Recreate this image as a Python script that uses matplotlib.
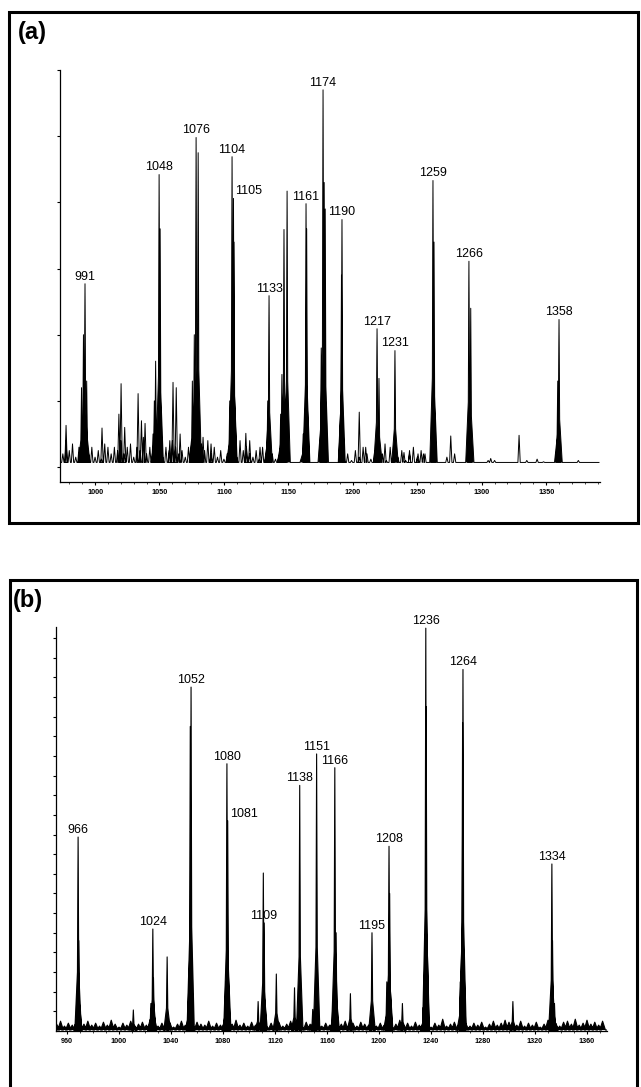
import numpy as np
import matplotlib.pyplot as plt
from matplotlib.patches import Rectangle
from matplotlib.ticker import MultipleLocator

plt.rcParams['font.family'] = ['Liberation Sans', 'DejaVu Sans']

# ---- panel (a): main peaks (m/z, height in tick units, label) ----
peaks_a_x = [989.5, 991.0, 992.2, 993.5, 1046.0, 1047.0, 1049.7, 1050.5, 1075.5, 1077.0,
             1078.4, 1080.0, 1104.5, 1106.3, 1107.4, 1107.8, 1134.0, 1135.0, 1144.0, 1145.0,
             1146.6, 1149.0, 1161.5, 1163.7, 1164.2, 1175.5, 1176.9, 1177.8, 1178.6, 1191.2,
             1191.6, 1218.8, 1220.3, 1232.7, 1262.2, 1263.0, 1290.1, 1291.5, 1359.0, 1360.0]
peaks_a_h = [1.2, 2.0, 2.77, 1.3, 1.0, 1.6, 4.42, 3.6, 1.3, 2.0,
             4.98, 4.75, 1.0, 4.69, 4.06, 3.4, 1.0, 2.59, 0.8, 1.4,
             3.59, 4.17, 0.5, 3.98, 3.6, 1.8, 5.70, 4.3, 3.9, 2.9,
             3.74, 2.09, 1.34, 1.76, 4.33, 3.4, 3.11, 2.4, 1.3, 2.23]
peaks_a_lab = ['', '', '991', '', '', '', '1048', '', '', '',
               '1076', '', '', '1104', '1105', '', '', '1133', '', '',
               '', '', '', '1161', '', '', '1174', '', '', '',
               '1190', '1217', '', '1231', '1259', '', '1266', '', '', '1358']

# small peaks of panel (a)
small_a_x = [977.5, 1005.4, 1018.5, 1020.2, 1023.0, 1033.4, 1036.0, 1038.8, 1058.0, 1060.5,
             1063.0, 1066.0, 1083.8, 1090.0, 1117.0, 1120.0, 1128.0, 1205.0, 1210.0, 1225.0,
             1239.7, 1244.0, 1250.6, 1254.8, 1273.0, 1276.0, 1279.0, 1305.0, 1307.0, 1310.0,
             1329.0, 1335.0, 1343.0, 1348.0, 1375.0]
small_a_h = [0.63, 0.59, 0.8, 1.26, 0.6, 1.11, 0.7, 0.66, 0.4, 1.28,
             1.2, 0.5, 0.45, 0.35, 0.51, 0.4, 0.3, 0.83, 0.3, 0.35,
             0.22, 0.25, 0.2, 0.2, 0.15, 0.47, 0.2, 0.1, 0.13, 0.1,
             0.48, 0.1, 0.12, 0.08, 0.1]

# baseline noise of panel (a)
noise_a1_x = np.arange(975, 1146, 2.5)
noise_a1_h = [0.2, 0.4, 0.25, 0.35, 0.15, 0.3, 0.4, 0.25, 0.2, 0.3, 0.15,
              0.25, 0.12, 0.35, 0.3, 0.2, 0.3,
              0.25, 0.4, 0.2, 0.3, 0.35, 0.15,
              0.3, 0.25, 0.45, 0.2, 0.3, 0.5,
              0.25, 0.35, 0.15, 0.3, 0.25, 0.4,
              0.3, 0.2, 0.25, 0.15, 0.3, 0.4,
              0.25, 0.15, 0.35, 0.25, 0.4, 0.2,
              0.3, 0.15, 0.25, 0.12, 0.2, 0.35,
              0.25, 0.15, 0.4, 0.25, 0.3, 0.2,
              0.15, 0.25, 0.12, 0.3, 0.15, 0.25,
              0.2, 0.12, 0.15, 0.25]
noise_a2_x = np.arange(1193, 1259, 3)
noise_a2_h = [0.12, 0.2, 0.1, 0.25, 0.15, 0.3, 0.2, 0.12, 0.25, 0.15, 0.2,
              0.1, 0.3, 0.2, 0.15, 0.25, 0.1, 0.2, 0.3, 0.15, 0.25, 0.2]
ticks_a = [1000, 1050, 1100, 1150, 1200, 1250, 1300, 1350]

# ---- panel (b) ----
peaks_b_x = [968.0, 968.5, 969.0, 1011.0, 1024.5, 1026.0, 1026.5, 1037.0, 1053.5, 1054.8,
             1055.4, 1082.0, 1083.0, 1083.6, 1107.0, 1111.0, 1111.6, 1121.0, 1135.0, 1139.0,
             1149.0, 1152.0, 1164.5, 1166.0, 1167.0, 1178.0, 1194.6, 1206.0, 1207.7, 1208.2,
             1218.0, 1234.0, 1236.0, 1236.3, 1262.5, 1264.3, 1264.6, 1303.0, 1333.0, 1333.5,
             1335.0]
peaks_b_h = [2.0, 9.87, 4.6, 1.07, 1.4, 5.19, 2.7, 3.77, 2.0, 15.5,
             17.5, 2.5, 13.6, 10.7, 1.5, 8.04, 5.5, 2.9, 2.2, 12.5,
             1.1, 14.1, 1.5, 13.4, 5.0, 1.9, 5.0, 2.5, 9.4, 7.0,
             1.4, 1.2, 20.5, 16.5, 2.5, 15.7, 18.4, 1.5, 8.5, 4.6,
             1.4]
peaks_b_lab = ['', '966', '', '', '', '1024', '', '', '', '',
               '1052', '', '1080', '1081', '', '', '1109', '', '', '1138',
               '', '1151', '', '1166', '', '', '1195', '', '1208', '',
               '', '', '1236', '', '', '', '1264', '', '1334', '',
               '']

noise_b_x = np.arange(952, 1374, 3)
noise_b_h = [0.35, 0.5, 0.25, 0.4, 0.3, 0.45, 0.2, 0.35, 0.5, 0.3,
             0.4, 0.25, 0.45, 0.3, 0.55, 0.35, 0.2, 0.4, 0.3, 0.5,
             0.25, 0.35, 0.45, 0.3, 0.6, 0.35, 0.25, 0.4, 0.3, 0.45,
             0.2, 0.35, 0.5, 0.3, 0.4, 0.25, 0.45, 0.35, 0.3, 0.5,
             0.25, 0.4, 0.3, 0.45, 0.2, 0.35, 0.55, 0.3, 0.4, 0.25,
             0.45, 0.3, 0.35, 0.5, 0.2, 0.4, 0.3, 0.45, 0.25, 0.35,
             0.5, 0.3, 0.4, 0.2, 0.45, 0.35, 0.3, 0.55, 0.25, 0.4,
             0.3, 0.45, 0.2, 0.35, 0.5, 0.3, 0.4, 0.25, 0.45, 0.35,
             0.3, 0.5, 0.25, 0.4, 0.3, 0.45, 0.2, 0.35, 0.55, 0.3,
             0.4, 0.25, 0.45, 0.3, 0.35, 0.5, 0.2, 0.4, 0.3, 0.6,
             0.25, 0.35, 0.45, 0.3, 0.5, 0.35, 0.25, 0.4, 0.3, 0.45,
             0.2, 0.35, 0.5, 0.3, 0.4, 0.55, 0.45, 0.35, 0.3, 0.5,
             0.25, 0.4, 0.3, 0.45, 0.2, 0.35, 0.55, 0.3, 0.4, 0.25,
             0.45, 0.5, 0.35, 0.6, 0.3, 0.4, 0.55, 0.35, 0.45, 0.3,
             0.5]
ticks_b = [960, 1000, 1040, 1080, 1120, 1160, 1200, 1240, 1280, 1320, 1360]

# label placement tweaks (alignment, x shift in points)
label_style = {'1105': ('left', 1.5), '1081': ('left', 1.5)}

W, H = 641, 1087
fig = plt.figure(figsize=(W / 100, H / 100), dpi=100)


def box(l, t, r, b):
    return [l / W, 1 - b / H, (r - l) / W, (b - t) / H]


def shape(x, h, w, base):
    xs = [x - 2.5 * w, x - 0.5 * w, x, x + 0.5 * w, x + 2.5 * w]
    k = base + 0.3 * (h - base)
    return xs, [base, k, h, k, base]


def spike(x, h, w, base):
    return [x - w, x, x + w], [base, h, base]


def draw(ax, px, ph, labs, sx, sh, w, nw, base, xlo, xhi, fill_small, lw):
    items = []
    for x, h in zip(px, ph):
        items.append((x,) + shape(x, h, w, base))
    for x, h in zip(sx, sh):
        items.append((x,) + spike(x, h, nw, base))
    items.sort(key=lambda t: t[0])
    xs, ys = [xlo], [base]
    for _, a, b in items:
        xs += a
        ys += b
    xs.append(xhi)
    ys.append(base)
    for x, h in zip(px, ph):
        a, b = shape(x, h, w, base)
        ax.fill(a, b, color='black', lw=0)
    if fill_small:
        for x, h in zip(sx, sh):
            a, b = spike(x, h, nw, base)
            ax.fill(a, b, color='black', lw=0)
    ax.plot(xs, ys, color='black', lw=lw)
    for x, h, lab in zip(px, ph, labs):
        if not lab:
            continue
        ha, dx = label_style.get(lab, ('center', 0))
        ax.annotate(lab, (x, h), xytext=(dx, 3), textcoords='offset points',
                    ha=ha, va='baseline', fontsize=9)


def style(ax, ticks, minor, yticks):
    for s in ['top', 'right']:
        ax.spines[s].set_visible(False)
    for s in ['left', 'bottom']:
        ax.spines[s].set_linewidth(0.9)
    ax.set_xticks(ticks)
    ax.set_xticklabels([str(t) for t in ticks])
    ax.xaxis.set_minor_locator(MultipleLocator(minor))
    ax.set_yticks(yticks)
    ax.tick_params(axis='x', which='major', length=2.5, width=0.8, labelsize=5.2, pad=2.5)
    ax.tick_params(axis='x', which='minor', length=1.2, width=0.5)
    ax.tick_params(axis='y', length=2.5, width=0.8, labelleft=False)
    for t in ax.get_xticklabels():
        t.set_fontweight('bold')


# panel (a)
ax1 = fig.add_axes(box(60, 70, 600, 482))
sa_x = list(small_a_x) + list(noise_a1_x) + list(noise_a2_x)
sa_h = list(small_a_h) + list(noise_a1_h) + list(noise_a2_h)
draw(ax1, peaks_a_x, peaks_a_h, peaks_a_lab, sa_x, sa_h, 1.0, 0.9, 0.07, 974, 1391, False, 0.7)
ax1.set_xlim(972.8, 1391.8)
ax1.set_ylim(-0.2256, 6.0)
style(ax1, ticks_a, 10, range(0, 7))

# panel (b)
ax2 = fig.add_axes(box(56, 627, 607, 1031))
draw(ax2, peaks_b_x, peaks_b_h, peaks_b_lab, noise_b_x, noise_b_h, 1.0, 2.2, 0.05, 952, 1375, True, 0.8)
ax2.set_xlim(951.5, 1375.4)
ax2.set_ylim(0, 20.56)
style(ax2, ticks_b, 10, range(1, 21))

# frames and panel letters
for l, t, r, b in [(9, 12, 638, 523), (10, 580, 637, 1100)]:
    fig.add_artist(Rectangle((l / W, 1 - b / H), (r - l) / W, (b - t) / H,
                             transform=fig.transFigure, fill=False, lw=2.2, ec='black'))
fig.text(18 / W, 1 - 32 / H, '(a)', fontsize=17, fontweight='bold', va='center')
fig.text(13 / W, 1 - 601 / H, '(b)', fontsize=17, fontweight='bold', va='center')

fig.savefig('out.png', dpi=100)
